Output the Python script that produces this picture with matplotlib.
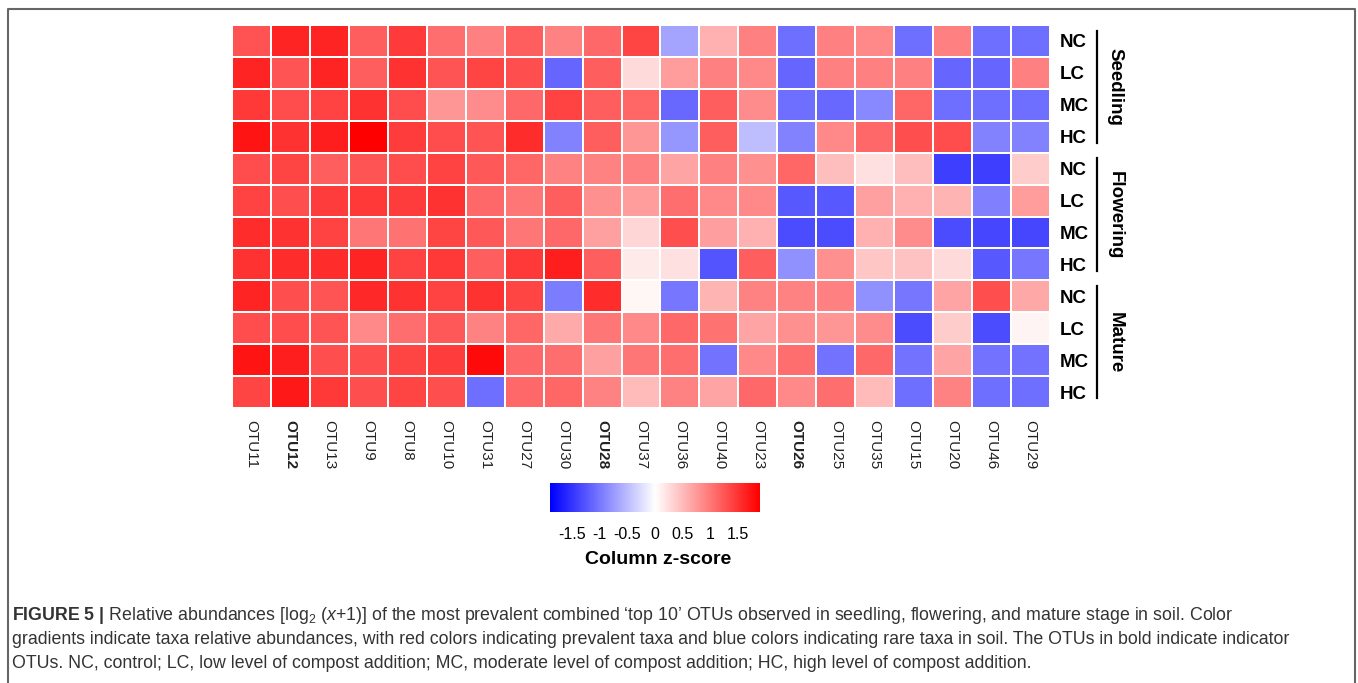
import matplotlib.pyplot as plt
import numpy as np
from matplotlib.colors import LinearSegmentedColormap, Normalize
from matplotlib.lines import Line2D
import matplotlib as mpl

plt.rcParams['font.family'] = ['Liberation Sans', 'DejaVu Sans']
plt.rcParams['mathtext.fontset'] = 'custom'
plt.rcParams['mathtext.rm'] = 'Liberation Sans'
plt.rcParams['mathtext.it'] = 'Liberation Sans:italic'
plt.rcParams['mathtext.bf'] = 'Liberation Sans:bold'

otus = ['OTU11', 'OTU12', 'OTU13', 'OTU9', 'OTU8', 'OTU10', 'OTU31', 'OTU27',
        'OTU30', 'OTU28', 'OTU37', 'OTU36', 'OTU40', 'OTU23', 'OTU26', 'OTU25',
        'OTU35', 'OTU15', 'OTU20', 'OTU46', 'OTU29']
bold_otus = ['OTU12', 'OTU28', 'OTU26']
treatments = ['NC', 'LC', 'MC', 'HC'] * 3
stages = ['Seedling', 'Flowering', 'Mature']

# column z-scores, one list per row (stage / treatment)
seedling_nc = [1.29, 1.62, 1.62, 1.20, 1.46, 1.08, 0.95, 1.20, 0.93, 1.12, 1.39, -0.67, 0.59, 0.95, -1.08, 0.95, 0.89, -1.08, 0.95, -1.08, -1.08]
seedling_lc = [1.62, 1.27, 1.62, 1.20, 1.52, 1.27, 1.39, 1.31, -1.14, 1.20, 0.27, 0.74, 0.95, 0.89, -1.14, 0.95, 0.95, 0.95, -1.14, -1.14, 0.95]
seedling_mc = [1.48, 1.33, 1.41, 1.52, 1.33, 0.78, 0.86, 1.12, 1.41, 1.20, 1.14, -1.12, 1.20, 0.86, -1.08, -1.12, -0.89, 1.14, -1.08, -1.08, -1.08]
seedling_hc = [1.75, 1.52, 1.67, 1.90, 1.44, 1.33, 1.27, 1.56, -0.93, 1.20, 0.78, -0.78, 1.20, -0.48, -0.93, 0.89, 1.12, 1.31, 1.33, -0.93, -0.93]
flowering_nc = [1.33, 1.39, 1.20, 1.27, 1.33, 1.41, 1.24, 1.14, 0.93, 0.93, 0.95, 0.67, 0.95, 0.82, 1.14, 0.48, 0.23, 0.48, -1.43, -1.43, 0.38]
flowering_lc = [1.41, 1.31, 1.44, 1.48, 1.44, 1.52, 1.12, 1.01, 1.20, 0.82, 0.74, 1.08, 0.89, 0.89, -1.24, -1.24, 0.70, 0.59, 0.55, -0.95, 0.74]
flowering_mc = [1.56, 1.52, 1.41, 1.01, 1.05, 1.39, 1.24, 1.01, 1.12, 0.70, 0.30, 1.31, 0.72, 0.59, -1.33, -1.33, 0.59, 0.86, -1.33, -1.37, -1.37]
flowering_hc = [1.52, 1.56, 1.56, 1.63, 1.41, 1.48, 1.20, 1.48, 1.67, 1.20, 0.15, 0.23, -1.27, 1.20, -0.82, 0.82, 0.42, 0.46, 0.27, -1.24, -1.01]
mature_nc = [1.63, 1.31, 1.27, 1.60, 1.52, 1.41, 1.52, 1.39, -0.97, 1.56, 0.06, -1.01, 0.55, 0.93, 0.93, 0.95, -0.82, -1.01, 0.67, 1.31, 0.65]
mature_lc = [1.33, 1.33, 1.27, 0.89, 1.08, 1.24, 0.93, 1.14, 0.63, 1.01, 0.89, 1.12, 1.05, 0.67, 0.82, 0.78, 0.86, -1.33, 0.38, -1.33, 0.08]
mature_mc = [1.75, 1.67, 1.31, 1.31, 1.39, 1.44, 1.82, 1.12, 1.08, 0.70, 1.01, 1.08, -1.05, 0.89, 1.08, -1.05, 1.12, -1.05, 0.67, -1.05, -1.05]
mature_hc = [1.39, 1.71, 1.48, 1.31, 1.39, 1.31, -1.08, 1.12, 1.14, 0.93, 0.51, 0.93, 0.67, 1.12, 0.89, 1.08, 0.51, -1.08, 0.93, -1.08, -1.08]

z = np.array([seedling_nc, seedling_lc, seedling_mc, seedling_hc,
              flowering_nc, flowering_lc, flowering_mc, flowering_hc,
              mature_nc, mature_lc, mature_mc, mature_hc])

cbar_ticks = [-1.5, -1, -0.5, 0, 0.5, 1, 1.5]
cbar_labels = ['-1.5', '-1', '-0.5', '0', '0.5', '1', '1.5']

W, H = 1358, 683
fig = plt.figure(figsize=(W / 100, H / 100), dpi=100)

cmap = LinearSegmentedColormap.from_list('bwr2', ['#0000FF', '#FFFFFF', '#FF0000'])
norm = Normalize(vmin=-1.9, vmax=1.9)

ax = fig.add_axes([232 / W, 1 - 408 / H, 818 / W, 383 / H])
ax.pcolormesh(np.arange(len(otus) + 1), np.arange(len(treatments) + 1), z,
              cmap=cmap, norm=norm, edgecolors='white', linewidth=1.2)
ax.set_xlim(0, len(otus))
ax.set_ylim(len(treatments), 0)
for s in ax.spines.values():
    s.set_visible(False)

ax.set_xticks(np.arange(len(otus)) + 0.5)
ax.set_xticklabels(otus, rotation=-90, fontsize=11, color='#222222')
for lbl in ax.get_xticklabels():
    if lbl.get_text() in bold_otus:
        lbl.set_fontweight('bold')
ax.tick_params(axis='x', length=0, pad=9)

ax.yaxis.tick_right()
ax.set_yticks(np.arange(len(treatments)) + 0.5)
ax.set_yticklabels(treatments, fontsize=13.5, fontweight='bold')
ax.tick_params(axis='y', length=0, pad=7)

# stage brackets
tr = mpl.transforms.blended_transform_factory(ax.transAxes, ax.transData)
for i, st in enumerate(stages):
    y0 = i * 4 + 0.18
    y1 = i * 4 + 4 - 0.3
    ax.add_line(Line2D([1.0575, 1.0575], [y0, y1], transform=tr, color='black',
                       lw=1.6, clip_on=False))
    ax.text(1.0795, i * 4 + 1.95, st, transform=tr, rotation=-90, ha='center',
            va='center', fontsize=13.5, fontweight='bold')

# colour key
cax = fig.add_axes([550 / W, 1 - 512 / H, 210 / W, 29 / H])
grad = np.linspace(-1.9, 1.9, 400).reshape(1, -1)
cax.imshow(grad, aspect='auto', cmap=cmap, norm=norm, extent=[-1.9, 1.9, 0, 1])
cax.set_yticks([])
cax.set_xticks(cbar_ticks)
cax.set_xticklabels(cbar_labels, fontsize=11.5)
cax.tick_params(axis='x', length=0, pad=11)
for s in cax.spines.values():
    s.set_visible(False)
fig.text(658 / W, 1 - 559 / H, 'Column z-score', ha='center', va='center',
         fontsize=14, fontweight='bold')

# caption
cap_color = '#333333'
cap_lines = [
    r"$\bf{FIGURE\ 5\ |}$ Relative abundances [log$_2$ ($x$+1)] of the most prevalent combined "
    "\u2018top 10\u2019 OTUs observed in seedling, flowering, and mature stage in soil. Color",
    "gradients indicate taxa relative abundances, with red colors indicating prevalent taxa and blue colors indicating rare taxa in soil. The OTUs in bold indicate indicator",
    "OTUs. NC, control; LC, low level of compost addition; MC, moderate level of compost addition; HC, high level of compost addition.",
]
for line, yy in zip(cap_lines, [615, 640, 664]):
    fig.text(12 / W, 1 - yy / H, line, ha='left', va='center', fontsize=12.8,
             color=cap_color)

# outer frame (open at the bottom)
fx0, fx1, fy = 8 / W, 1355 / W, 1 - 9 / H
fig.add_artist(Line2D([fx0, fx0, fx1, fx1], [0, fy, fy, 0], transform=fig.transFigure,
                      color='#666666', lw=1.5))

fig.savefig('out.png', dpi=100)
